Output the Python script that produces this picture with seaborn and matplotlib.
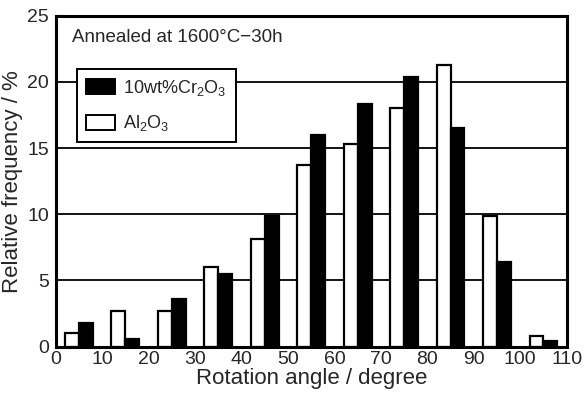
"""
Rotation angle distribution: Al2O3 vs 10wt%Cr2O3 (annealed 1600C-30h)
"""

import numpy as np
import pandas as pd
import matplotlib
matplotlib.use("Agg")
import matplotlib.pyplot as plt
from matplotlib.patches import Patch
import seaborn as sns

# ── data ───────────────────────────────────────────────────
ANGLES = [5, 15, 25, 35, 45, 55, 65, 75, 85, 95, 105]
AL2O3 = [1.0, 2.7, 2.7, 6.0, 8.1, 13.7, 15.3, 18.0, 21.3, 9.9, 0.8]
CR2O3 = [1.8, 0.6, 3.6, 5.5, 9.9, 16.0, 18.3, 20.4, 16.5, 6.4, 0.45]
SERIES = ["Al2O3", "Cr2O3"]
X_TICKS = list(range(0, 111, 10))
Y_TICKS = list(range(0, 26, 5))

df = pd.DataFrame({
    "angle": ANGLES * 2,
    "value": AL2O3 + CR2O3,
    "series": [SERIES[0]] * len(ANGLES) + [SERIES[1]] * len(ANGLES),
})

sns.set_theme(style="white")
plt.rcParams["font.family"] = ["Liberation Sans", "DejaVu Sans"]
plt.rcParams["mathtext.default"] = "regular"

fig = plt.figure(figsize=(5.87, 3.93), dpi=100)
ax = fig.add_axes([0.0949, 0.118, 0.8705, 0.842])

sns.barplot(
    data=df, x="angle", y="value", hue="series", hue_order=SERIES,
    palette={"Al2O3": "white", "Cr2O3": "black"},
    native_scale=True, width=0.6, edgecolor="black", linewidth=1.6,
    errorbar=None, legend=False, ax=ax,
)

ax.set_xlim(0, 110)
ax.set_ylim(0, 25)
ax.set_xticks(X_TICKS)
ax.set_yticks(Y_TICKS)
ax.tick_params(axis="x", direction="in", length=4, width=1.4, color="black",
               labelsize=14, pad=3)
ax.tick_params(axis="y", length=0, labelsize=14, pad=5)

# horizontal lines behind bars
ax.set_axisbelow(True)
ax.yaxis.grid(True, color="black", linewidth=1.3)
ax.xaxis.grid(False)

for s in ax.spines.values():
    s.set_visible(True)
    s.set_color("black")
    s.set_linewidth(2.2)

ax.set_xlabel("Rotation angle / degree", fontsize=16, labelpad=0)
ax.set_ylabel("Relative frequency / %", fontsize=16, labelpad=3)

ax.text(0.032, 0.935, "Annealed at 1600°C−30h", transform=ax.transAxes,
        fontsize=13.5, va="center", ha="left")

handles = [
    Patch(facecolor="black", edgecolor="black", linewidth=1.4),
    Patch(facecolor="white", edgecolor="black", linewidth=1.4),
]
leg = ax.legend(
    handles, [r"10wt%Cr$_2$O$_3$", r"Al$_2$O$_3$"],
    loc="upper left", bbox_to_anchor=(0.042, 0.839), borderaxespad=0,
    fancybox=False, framealpha=1, edgecolor="black", fontsize=13,
    handlelength=1.6, handleheight=0.9, handletextpad=0.45,
    borderpad=0.5, labelspacing=0.85,
)
leg.get_frame().set_linewidth(1.4)

plt.savefig("out.png", dpi=100, facecolor="white")
